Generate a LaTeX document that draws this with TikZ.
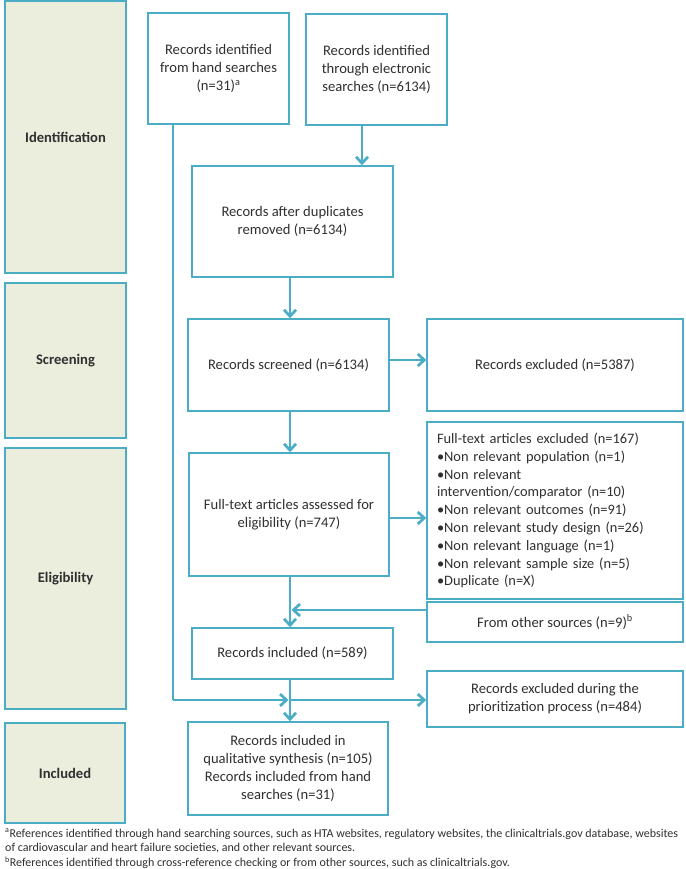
\documentclass[tikz,border=0pt]{standalone}
\usepackage{fontspec}
\setmainfont{Carlito}
\usetikzlibrary{arrows.meta}
\definecolor{bord}{HTML}{4BACC6}
\definecolor{stagefill}{HTML}{EBEEDD}
\definecolor{txt}{HTML}{303030}
\begin{document}
\begin{tikzpicture}[x=1pt,y=-1pt,
  box/.style={draw=bord, line width=1.5pt, fill=white, inner sep=0pt, align=center, text=txt, font=\fontsize{14.6}{18}\selectfont},
  stage/.style={draw=bord, line width=2pt, fill=stagefill, inner sep=0pt, text=txt, font=\bfseries\fontsize{14.6}{18}\selectfont},
  arr/.style={draw=bord, line width=2.7pt, -{Straight Barb[length=6.5pt,width=12pt]}},
  ln/.style={draw=bord, line width=2.7pt},
  fnote/.style={anchor=west, inner sep=0pt, text=txt, font=\fontsize{12}{13}\selectfont}]
\useasboundingbox (0,0) rectangle (685,869);
\fill[white] (0,0) rectangle (685,869);

% stage boxes
\node[stage, minimum width=121pt, minimum height=272pt] (sid) at (65.5,137) {Identification};
\node[stage, minimum width=121pt, minimum height=155pt] (ssc) at (65.5,360.5) {Screening};
\node[stage, minimum width=121pt, minimum height=261pt] (sel) at (65.5,578.5) {Eligibility};
\node[stage, minimum width=120pt, minimum height=100pt] (sin) at (65,773) {Included};

% flow boxes
\node[box, minimum width=141pt, minimum height=111pt] (b1) at (218.5,68.5) {Records identified\\from hand searches\\(n=31)\textsuperscript{a}};
\node[box, minimum width=141pt, minimum height=111pt] (b2) at (376.5,69.5) {Records identified\\through electronic\\searches (n=6134)};
\node[box, minimum width=201pt, minimum height=111pt] (b3) at (292.5,221.5) {Records after duplicates\\removed (n=6134)};
\node[box, minimum width=201pt, minimum height=92pt] (scr) at (288.5,365) {Records screened (n=6134)};
\node[box, minimum width=256pt, minimum height=92pt] (excl) at (555,365) {Records excluded (n=5387)};
\node[box, minimum width=200pt, minimum height=123pt] (ft) at (289,514.5) {Full-text articles assessed for\\eligibility (n=747)};
\node[box, minimum width=256pt, minimum height=177pt, text width=236pt, inner xsep=10pt, align=left, font=\fontsize{14.4}{17.8}\selectfont] (fte) at (555,510.5) {Full-text articles excluded (n=167)\\
•Non relevant population (n=1)\\
•Non relevant\\
intervention/comparator (n=10)\\
•Non relevant outcomes (n=91)\\
•Non relevant study design (n=26)\\
•Non relevant language (n=1)\\
•Non relevant sample size (n=5)\\
•Duplicate (n=X)};
\node[box, minimum width=256pt, minimum height=40pt] (oth) at (555,622) {From other sources (n=9)\textsuperscript{b}};
\node[box, minimum width=201pt, minimum height=51pt] (inc) at (292.5,653.5) {Records included (n=589)};
\node[box, minimum width=256pt, minimum height=56pt] (pri) at (555,699) {Records excluded during the\\prioritization process (n=484)};
\node[box, minimum width=200pt, minimum height=93pt] (fin) at (288,768.5) {Records included in\\qualitative synthesis (n=105)\\Records included from hand\\searches (n=31)};

% helper coordinates
\coordinate (xa) at (362,0);
\coordinate (xm) at (290,0);
\coordinate (xh) at (173,0);
\coordinate (ys) at (0,360);
\coordinate (yf) at (0,518);
\coordinate (yo) at (0,610);
\coordinate (yp) at (0,700);
\coordinate (hc) at (xh |- yp);
\coordinate (mj) at (xm |- yp);
\coordinate (oj) at (xm |- yo);

% connectors
\draw[arr] (b2.south -| xa) -- (b3.north -| xa);
\draw[arr] (b3.south -| xm) -- (scr.north -| xm);
\draw[arr] (scr.east |- ys) -- (excl.west |- ys);
\draw[arr] (scr.south -| xm) -- (ft.north -| xm);
\draw[arr] (ft.east |- yf) -- (fte.west |- yf);
\draw[arr] (ft.south -| xm) -- (inc.north -| xm);
\draw[arr, shorten >=1.5pt] (oth.west |- yo) -- (oj);
\draw[arr] (inc.south -| xm) -- (fin.north -| xm);
\draw[ln] (b1.south -| xh) -- (hc);
\draw[arr, shorten >=1.5pt] (hc) -- (mj);
\draw[arr] (mj) -- (pri.west |- yp);

% footnotes
\node[fnote] (fa) at (5,834) {\textsuperscript{a}References identified through hand searching sources, such as HTA websites, regulatory websites, the clinicaltrials.gov database, websites};
\node[fnote] (fa2) at (5,848) {of cardiovascular and heart failure societies, and other relevant sources.};
\node[fnote] (fb) at (5,863) {\textsuperscript{b}References identified through cross-reference checking or from other sources, such as clinicaltrials.gov.};
\end{tikzpicture}
\end{document}
